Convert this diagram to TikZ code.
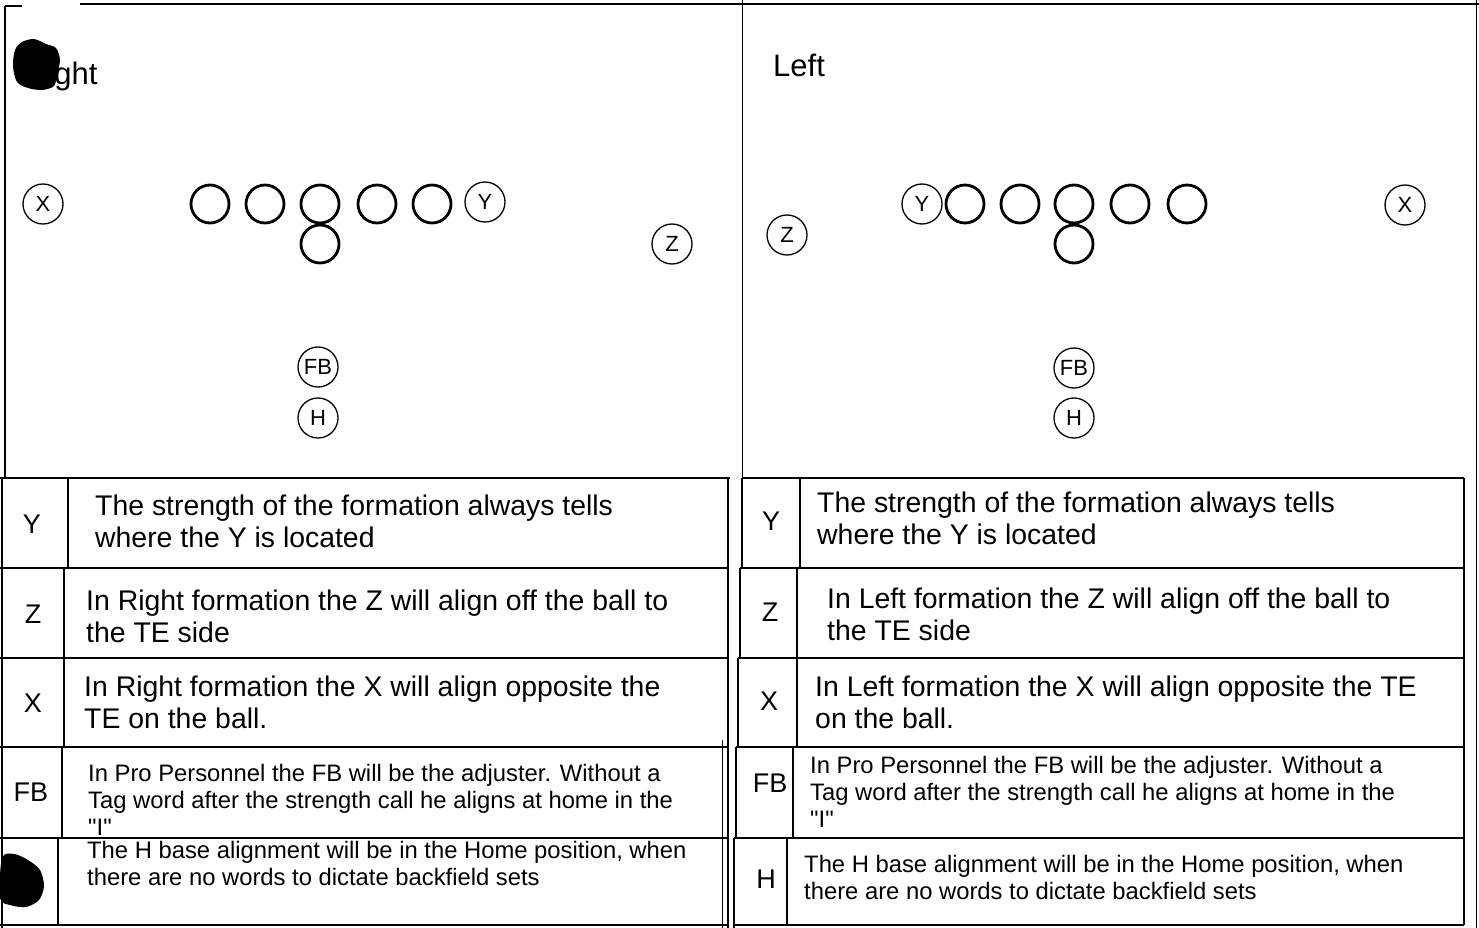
\documentclass[tikz,border=0pt]{standalone}
\usepackage{fontspec}
\setmainfont{Liberation Sans}
\newfontfamily\rawfont{Liberation Sans}[Ligatures=ResetAll]
\begin{document}
\begin{tikzpicture}[x=1pt,y=-1pt,
  tbl/.style={line width=1.6pt},
  lineman/.style={circle,draw,line width=2.8pt,minimum size=38pt,inner sep=0pt},
  player/.style={circle,draw,line width=1.3pt,minimum size=40pt,inner sep=0pt,font=\fontsize{22}{22}\selectfont},
  cell/.style={anchor=base west,inner sep=0pt,align=left,font=\fontsize{28.4}{32}\selectfont},
  smallcell/.style={anchor=base west,inner sep=0pt,align=left,font=\fontsize{23.8}{27}\selectfont},
  lbl/.style={inner sep=0pt,font=\fontsize{27}{27}\selectfont},
  title/.style={anchor=base west,inner sep=0pt,font=\fontsize{31}{31}\selectfont},
  blob/.style={fill=black}]
\useasboundingbox (0,0) rectangle (1479,928);
\fill[white] (0,0) rectangle (1479,928);

% outer frame lines
\draw[tbl] (80,4) -- (1479,4);
\draw[tbl] (5,6) -- (22,6);
\draw[tbl] (5,6) -- (5,478);
\draw[line width=1pt] (742,0) -- (742,478);
\draw[line width=1pt] (1476,0) -- (1476,928);

% ---------- Left panel: Right formation ----------
\node[title] (tR) at (25,85) {Right};
\fill[blob] plot[smooth cycle] coordinates {(15,50) (22,42) (34,39) (46,44) (56,48) (60,60) (57,74) (54,86) (42,90) (28,88) (17,82) (13,66)};

\node[player] (Rx) at (43,204) {X};
\node[lineman] (Rl1) at (210,204) {};
\node[lineman] (Rl2) at (265,204) {};
\node[lineman] (Rc) at (320,204) {};
\node[lineman] (Rl4) at (377,204) {};
\node[lineman] (Rl5) at (432,204) {};
\node[lineman] (Rq) at (320,244) {};
\node[player] (Ry) at (485,202) {Y};
\node[player] (Rz) at (672,244) {Z};
\node[player] (Rfb) at (318,367) {FB};
\node[player] (Rh) at (318,418) {H};

% ---------- Right panel: Left formation ----------
\node[title] (tL) at (773,77) {Left};
\node[player] (Lz) at (787,235) {Z};
\node[player] (Ly) at (922,204) {Y};
\node[lineman] (Ll1) at (965,204) {};
\node[lineman] (Ll2) at (1020,204) {};
\node[lineman] (Lc) at (1074,204) {};
\node[lineman] (Ll4) at (1130,204) {};
\node[lineman] (Ll5) at (1187,204) {};
\node[lineman] (Lq) at (1074,244) {};
\node[player] (Lx) at (1405,205) {X};
\node[player] (Lfb) at (1074,368) {FB};
\node[player] (Lh) at (1074,418) {H};

% ---------- Left table ----------
\draw[tbl] (0,478) -- (730,478);
\draw[tbl] (0,568) -- (728,568);
\draw[tbl] (0,658) -- (728,658);
\draw[tbl] (0,747) -- (728,747);
\draw[tbl] (0,838) -- (728,838);
\draw[tbl] (0,925) -- (728,925);
\draw[tbl] (2,478) -- (2,928);
\draw[tbl] (68,478) -- (68,568);
\draw[tbl] (64,568) -- (64,747);
\draw[tbl] (62,747) -- (62,838);
\draw[tbl] (58,838) -- (58,925);
\draw[tbl] (728,478) -- (728,928);
\draw[line width=1pt] (722,740) -- (722,928);

\node[lbl] (RtY) at (32,524) {Y};
\node[lbl] (RtZ) at (33,614) {Z};
\node[lbl] (RtX) at (33,703) {X};
\node[lbl] (RtFB) at (31,792) {FB};
\fill[blob] plot[smooth cycle] coordinates {(2,858) (14,854) (28,860) (40,870) (44,886) (39,900) (26,907) (10,905) (0,898)};

\node[cell] (RdY) at (95,547) {The strength of the formation always tells\\where the Y is located};
\node[cell] (RdZ) at (86,642) {In Right formation the Z will align off the ball to\\the TE side};
\node[cell] (RdX) at (84,728) {In Right formation the X will align opposite the\\TE on the ball.};
\node[smallcell] (RdFB) at (88,835) {In Pro Personnel the FB will be the adjuster. Without a\\Tag word after the strength call he aligns at home in the\\{\rawfont "I"}};
\node[smallcell] (RdH) at (87,885) {The H base alignment will be in the Home position, when\\there are no words to dictate backfield sets};

% ---------- Right table ----------
\draw[tbl] (742,478) -- (1464,478);
\draw[tbl] (740,568) -- (1464,568);
\draw[tbl] (738,658) -- (1464,658);
\draw[tbl] (736,747) -- (1464,747);
\draw[tbl] (734,838) -- (1464,838);
\draw[tbl] (733,925) -- (1464,925);
\draw[tbl] (742,478) -- (742,568);
\draw[tbl] (740,568) -- (740,658);
\draw[tbl] (738,658) -- (738,747);
\draw[tbl] (736,747) -- (736,838);
\draw[tbl] (734,838) -- (734,928);
\draw[tbl] (800,478) -- (800,568);
\draw[tbl] (797,568) -- (797,747);
\draw[tbl] (793,747) -- (793,838);
\draw[tbl] (787,838) -- (787,925);
\draw[tbl] (1464,478) -- (1464,925);

\node[lbl] (LtY) at (771,521) {Y};
\node[lbl] (LtZ) at (770,612) {Z};
\node[lbl] (LtX) at (769,701) {X};
\node[lbl] (LtFB) at (770,783) {FB};
\node[lbl] (LtH) at (766,879) {H};

\node[cell] (LdY) at (817,544) {The strength of the formation always tells\\where the Y is located};
\node[cell] (LdZ) at (827,640) {In Left formation the Z will align off the ball to\\the TE side};
\node[cell] (LdX) at (815,728) {In Left formation the X will align opposite the TE\\on the ball.};
\node[smallcell] (LdFB) at (810,827) {In Pro Personnel the FB will be the adjuster. Without a\\Tag word after the strength call he aligns at home in the\\{\rawfont "I"}};
\node[smallcell] (LdH) at (804,899) {The H base alignment will be in the Home position, when\\there are no words to dictate backfield sets};
\end{tikzpicture}
\end{document}
